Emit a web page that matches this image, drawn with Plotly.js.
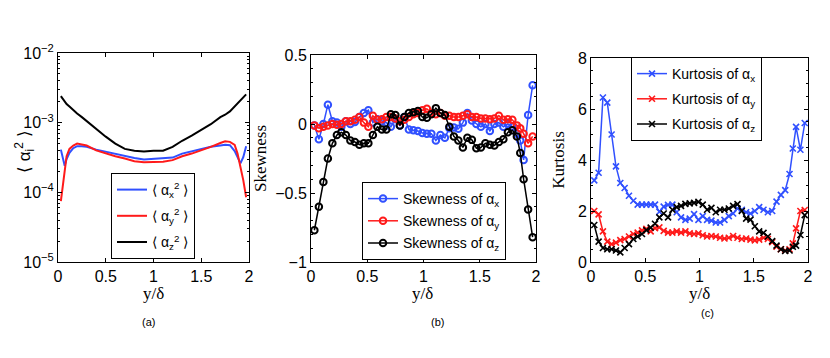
<!DOCTYPE html>
<html>
<head>
<meta charset="utf-8">
<script src="https://cdn.plot.ly/plotly-3.0.1.min.js"></script>
<style>html,body{margin:0;padding:0;background:#fff;}#plot{width:830px;height:358px;}</style>
</head>
<body>
<div id="plot"></div>
<script>
// ---------- Panel (a): mean square <alpha_i^2> ----------
const xA = [0.03,0.05,0.07,0.09,0.12,0.16,0.20,0.25,0.30,0.40,0.50,0.60,0.70,0.80,0.90,1.00,1.10,1.20,1.30,1.40,1.50,1.60,1.70,1.75,1.80,1.85,1.88,1.91,1.94,1.97];
const msX = [4.1e-4,3.0e-4,2.4e-4,3.0e-4,3.7e-4,4.3e-4,4.6e-4,4.6e-4,4.5e-4,4.1e-4,3.8e-4,3.55e-4,3.3e-4,3.1e-4,2.95e-4,3.0e-4,3.05e-4,3.15e-4,3.6e-4,3.9e-4,4.2e-4,4.5e-4,4.7e-4,4.8e-4,4.75e-4,3.9e-4,3.2e-4,2.6e-4,3.2e-4,4.6e-4];
const msY = [7.5e-5,1.3e-4,2.3e-4,3.3e-4,4.2e-4,4.7e-4,5.0e-4,4.9e-4,4.7e-4,4.0e-4,3.6e-4,3.3e-4,3.05e-4,2.8e-4,2.7e-4,2.75e-4,2.75e-4,2.9e-4,3.3e-4,3.6e-4,4.0e-4,4.5e-4,5.1e-4,5.4e-4,5.3e-4,4.8e-4,3.6e-4,2.3e-4,1.5e-4,8.5e-5];
const msZ = [2.4e-3,2.2e-3,2.0e-3,1.85e-3,1.7e-3,1.5e-3,1.35e-3,1.2e-3,1.05e-3,8.3e-4,6.3e-4,5.0e-4,4.2e-4,3.95e-4,3.85e-4,3.95e-4,3.95e-4,4.5e-4,5.5e-4,6.5e-4,7.8e-4,9.5e-4,1.2e-3,1.3e-3,1.45e-3,1.7e-3,1.9e-3,2.05e-3,2.3e-3,2.55e-3];

// ---------- Panels (b), (c): common wall-normal positions ----------
const xBC = [0.03,0.07,0.11,0.15,0.19,0.23,0.27,0.31,0.35,0.39,0.43,0.47,0.51,0.55,0.59,0.63,0.67,0.71,0.75,0.79,0.83,0.87,0.91,0.95,0.99,1.03,1.07,1.11,1.15,1.19,1.23,1.27,1.31,1.35,1.39,1.43,1.47,1.51,1.55,1.59,1.63,1.67,1.71,1.75,1.79,1.83,1.86,1.89,1.93,1.97];

// Skewness
const skX = [-0.01,-0.11,0.0,0.14,0.02,0.01,-0.02,0.02,0.0,0.015,0.05,0.08,0.10,0.01,0.035,0.02,0.01,-0.02,0.035,-0.01,0.05,-0.04,-0.045,-0.05,-0.065,-0.07,-0.07,-0.12,-0.08,-0.10,-0.03,-0.025,-0.035,0.01,0.08,0.025,0.0,-0.02,0.0,-0.05,0.0,0.01,-0.02,0.0,-0.02,-0.07,-0.12,-0.26,0.065,0.28];
const skY = [-0.01,-0.03,-0.02,-0.01,0.0,-0.005,0.0,0.02,0.02,0.03,0.05,0.01,-0.02,0.06,0.03,0.035,0.05,0.05,0.04,0.02,0.03,0.05,0.07,0.08,0.10,0.11,0.08,0.07,0.08,0.06,0.06,0.05,0.05,0.06,0.07,0.05,0.05,0.04,0.04,0.035,0.04,0.06,0.03,0.035,0.03,-0.01,-0.03,-0.07,-0.14,-0.09];
const skZ = [-0.77,-0.60,-0.42,-0.25,-0.14,-0.08,-0.06,-0.08,-0.12,-0.13,-0.15,-0.14,-0.14,-0.08,-0.02,-0.04,-0.04,0.07,0.065,-0.01,0.05,0.08,0.085,0.095,0.05,0.045,0.07,0.115,0.08,0.065,-0.02,-0.09,-0.12,-0.17,-0.10,-0.115,-0.175,-0.17,-0.14,-0.15,-0.155,-0.13,-0.11,-0.06,-0.045,-0.09,-0.21,-0.40,-0.62,-0.82];

// Kurtosis
const kuX = [3.2,3.5,6.45,6.25,5.0,3.75,3.1,2.9,2.6,2.4,2.25,2.25,2.25,2.25,2.25,1.97,2.17,2.24,2.25,1.95,1.75,1.65,1.7,1.88,1.65,1.8,1.65,1.62,1.55,1.55,1.65,1.8,1.9,2.1,2.05,1.95,1.9,2.0,2.15,2.05,1.95,2.0,2.37,2.63,2.82,3.45,4.45,5.3,4.4,5.45];
const kuY = [2.0,1.87,1.2,0.8,0.7,0.76,0.86,0.9,1.0,1.1,1.15,1.24,1.3,1.2,1.33,1.36,1.22,1.15,1.15,1.2,1.15,1.2,1.12,1.1,1.12,1.05,1.0,1.02,1.0,0.95,0.92,0.95,1.02,0.95,0.9,0.92,0.88,0.85,0.88,0.95,0.9,0.78,0.6,0.5,0.45,0.5,0.73,1.32,2.0,2.04];
const kuZ = [1.45,0.8,0.55,0.5,0.5,0.45,0.38,0.55,0.7,0.9,1.0,1.1,1.25,1.35,1.5,1.75,1.9,1.75,2.05,2.15,2.2,2.28,2.3,2.32,2.36,2.25,2.05,2.12,1.95,2.05,2.05,2.1,2.2,2.27,2.0,1.7,1.66,1.4,1.2,1.14,1.0,0.82,0.64,0.5,0.43,0.45,0.6,0.64,1.06,1.84];

const BLUE = '#3050ff', RED = '#ff1a1a', BLACK = '#000000';
const SANS = 'Liberation Sans, Arial, sans-serif';
const SERIF = 'Liberation Serif, Times New Roman, serif';

const legA = ['⟨ α<sub>x</sub><sup>2</sup> ⟩','⟨ α<sub>y</sub><sup>2</sup> ⟩','⟨ α<sub>z</sub><sup>2</sup> ⟩'];
const legB = ['Skewness of α<sub>x</sub>','Skewness of α<sub>y</sub>','Skewness of α<sub>z</sub>'];
const legC = ['Kurtosis of α<sub>x</sub>','Kurtosis of α<sub>y</sub>','Kurtosis of α<sub>z</sub>'];
const cols = [BLUE, RED, BLACK];

const traces = [];
[msX, msY, msZ].forEach((v,i)=>traces.push({x:xA, y:v, type:'scatter', mode:'lines', name:legA[i],
  line:{color:cols[i], width:2}, xaxis:'x', yaxis:'y', legend:'legend', legendgroup:'a'+i}));
[skX, skY, skZ].forEach((v,i)=>traces.push({x:xBC, y:v, type:'scatter', mode:'lines+markers', name:legB[i],
  line:{color:cols[i], width:1.5}, marker:{symbol:'circle-open', size:6.5, color:cols[i], line:{width:2, color:cols[i]}},
  xaxis:'x2', yaxis:'y2', legend:'legend2', legendgroup:'b'+i}));
[kuX, kuY, kuZ].forEach((v,i)=>traces.push({x:xBC, y:v, type:'scatter', mode:'lines+markers', name:legC[i],
  line:{color:cols[i], width:1.5}, marker:{symbol:'x-thin-open', size:6, color:cols[i], line:{width:1.6, color:cols[i]}},
  xaxis:'x3', yaxis:'y3', legend:'legend3', legendgroup:'c'+i}));

const W = 830, H = 358;
const px = v => v / W, py = v => 1 - v / H;

function xax(l, r, anchor){
  return {domain:[px(l), px(r)], anchor:anchor, range:[0,2], tickvals:[0,0.5,1,1.5,2], ticktext:['0','0.5','1','1.5','2'],
    showline:true, linecolor:'#000', linewidth:1, mirror:'ticks', ticks:'inside', ticklen:4, tickcolor:'#000',
    showgrid:false, zeroline:false, tickfont:{family:SANS, size:16, color:'#000'}, ticklabelstandoff:0, automargin:false};
}
function yax(t, b, anchor, extra){
  return Object.assign({domain:[py(b), py(t)], anchor:anchor,
    showline:true, linecolor:'#000', linewidth:1, mirror:'ticks', ticks:'inside', ticklen:4, tickcolor:'#000',
    showgrid:false, zeroline:false, tickfont:{family:SANS, size:16, color:'#000'}, automargin:false}, extra);
}

const legendBase = {bgcolor:'#ffffff', bordercolor:'#000', borderwidth:1, xanchor:'left', yanchor:'top',
  font:{family:SANS, size:14, color:'#000'}, itemwidth:30, tracegroupgap:5};

const annFont = {family:SANS, size:11, color:'#000'};
const xtFont = {family:SERIF, size:17, color:'#000'};
function ann(text, x, y, font, extra){
  return Object.assign({text:text, x:px(x), y:py(y), xref:'paper', yref:'paper', showarrow:false,
    xanchor:'center', yanchor:'middle', font:font}, extra || {});
}
const layout = {
  width:W, height:H, margin:{l:0,r:0,t:0,b:0}, paper_bgcolor:'#fff', plot_bgcolor:'#fff', showlegend:true,
  xaxis: xax(58, 249, 'y'),
  yaxis: yax(53, 262, 'x', {type:'log', range:[-5,-2], tickvals:[1e-5,1e-4,1e-3,1e-2],
    ticktext:['10<sup>−5</sup>','10<sup>−4</sup>','10<sup>−3</sup>','10<sup>−2</sup>'],
    minor:{ticks:'inside', ticklen:2, tickcolor:'#000', dtick:'D1'}}),
  xaxis2: xax(311, 536, 'y2'),
  yaxis2: yax(55, 262, 'x2', {range:[-1,0.5], tickvals:[-1,-0.5,0,0.5], ticktext:['−1','−0.5','0','0.5'],
    minor:{ticks:'inside', ticklen:2, tickcolor:'#000', dtick:0.1},
    title:{text:'Skewness', font:{family:SERIF, size:17, color:'#000'}, standoff:4}}),
  xaxis3: xax(591, 808, 'y3'),
  yaxis3: yax(58, 262, 'x3', {range:[0,8], tickvals:[0,2,4,6,8],
    minor:{ticks:'inside', ticklen:2, tickcolor:'#000', dtick:0.5},
    title:{text:'Kurtosis', font:{family:SERIF, size:17, color:'#000'}, standoff:8}}),
  legend: Object.assign({}, legendBase, {x:px(111), y:py(173)}),
  legend2: Object.assign({}, legendBase, {x:px(362), y:py(182), tracegroupgap:1}),
  legend3: Object.assign({}, legendBase, {x:px(631), y:py(57), tracegroupgap:4}),
  annotations:[
    ann('⟨ α<sub>i</sub><sup>2</sup> ⟩', 24, 152, {family:SANS, size:17, color:'#000'}, {textangle:-90}),
    ann('y/δ', 153, 293, xtFont),
    ann('y/δ', 423, 293, xtFont),
    ann('y/δ', 699, 293, xtFont),
    ann('(a)', 148, 322, annFont),
    ann('(b)', 437, 322, annFont),
    ann('(c)', 707, 313, annFont)
  ]
};

Plotly.newPlot('plot', traces, layout, {displayModeBar:false, staticPlot:true});
</script>
</body>
</html>
